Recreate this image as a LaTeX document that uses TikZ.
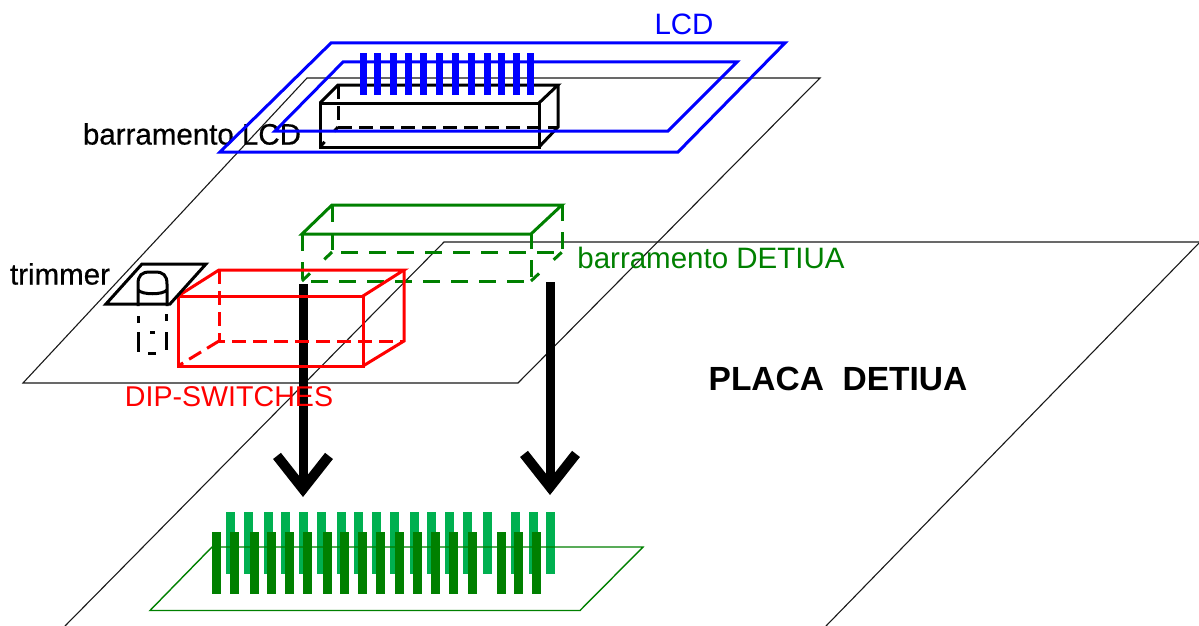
\documentclass[tikz,border=0pt]{standalone}
\usepackage{fontspec}
\setmainfont{Liberation Sans}
\newfontfamily\heavysans[FakeBold=0.6]{Liberation Sans}
\usepackage{xcolor}
\usetikzlibrary{arrows.meta}
\definecolor{lcdblue}{RGB}{0,0,255}
\definecolor{busgreen}{RGB}{0,128,0}
\definecolor{pingreen}{RGB}{0,176,80}
\definecolor{dipred}{RGB}{255,0,0}

\begin{document}
\begin{tikzpicture}[
        x=1pt,y=-1pt,
        every node/.style={font=\fontsize{29.5}{32}\selectfont,inner sep=0pt},
        plate/.style={draw=black!90,line width=1.1pt},
        part/.style={line width=3pt,line join=miter},
        hidden/.style={part,dash pattern=on 14pt off 7pt},
        longdash/.style={part,busgreen,dash pattern=on 17pt off 11pt},
        stubdash/.style={part,busgreen,dash pattern=on 11pt off 20pt},
        pinlight/.style={fill=pingreen},
        pindark/.style={fill=busgreen},
        pinblue/.style={fill=lcdblue},
        heavy/.style={line width=9pt,-{Straight Barb[length=33pt,width=52pt,line width=10pt]}}
    ]
        \useasboundingbox (0,0) rectangle (1199,626);
        % boards
        \draw[plate] (65,626) -- (444,242) -- (1199,242);
        \draw[plate] (1199,243) -- (826,626);
        \draw[plate] (307,78) -- (820,78) -- (518,383) -- (23,383) -- cycle;
        % pins on the lower board
        \foreach \x in {230,248,268,285,303,321,341,358,376,394,414,431,449,467,487,515,533,550}
            \fill[pinlight] (\x-4.5,512) rectangle (\x+4.5,574);
        \draw[line width=1.4pt,busgreen] (212,547) -- (643,547) -- (580,610.5) -- (150,610.5) -- cycle;
        \foreach \x in {216,234,254,271,289,307,327,344,362,380,399,417,435,453,472,501,518,536}
            \fill[pindark] (\x-4.5,532) rectangle (\x+4.5,594);
        % black connector under the LCD
        \draw[part] (320,103) rectangle (539,147);
        \draw[part] (320,103) -- (338,85) -- (558,85) -- (539,103);
        \draw[part] (558,85) -- (558,127) -- (539,147);
        \draw[hidden] (338,85) -- (338,127) -- (558,127);
        \draw[hidden,dash pattern=on 6pt off 14pt on 6pt] (338,127) -- (320,147);
        \node[font=\fontsize{29.5}{32}\heavysans] (lcdbuslabel) at (192,134) {barramento LCD};
        % LCD
        \draw[part,lcdblue] (331,43) -- (785,43) -- (678,152) -- (220,152) -- cycle;
        \draw[part,lcdblue] (343,62) -- (737,62) -- (668,131) -- (275,131) -- cycle;
        \foreach \x in {363,377,393,408,423,439,455,471,487,501,516,530}
            \fill[pinblue] (\x-3.5,53) rectangle (\x+3.5,95);
        \node[text=lcdblue] (lcdlabel) at (684,24) {LCD};
        % green connector
        \draw[part,busgreen] (302,234) -- (531,234) -- (562,205) -- (332,205) -- cycle;
        \draw[longdash] (302,234) -- (302,281) -- (531,281) -- (531,234);
        \draw[longdash] (332,205) -- (332,252) -- (562,252) -- (562,205);
        \draw[stubdash] (302,281) -- (332,252);
        \draw[stubdash] (531,281) -- (562,252);
        \node[text=busgreen] (detiuabuslabel) at (711,258) {barramento DETIUA};
        % arrows
        \coordinate (leftstart) at (303,284);
        \coordinate (leftend) at (303,497);
        \coordinate (rightstart) at (550,282);
        \coordinate (rightend) at (550,495);
        \draw[heavy] (leftstart) -- (leftend);
        \draw[heavy] (rightstart) -- (rightend);
        % dip switches
        \draw[part,dipred] (178,296) rectangle (363,366);
        \draw[part,dipred] (178,296) -- (219,270) -- (404,270) -- (363,296);
        \draw[part,dipred] (404,270) -- (404,341) -- (363,366);
        \draw[hidden,dipred] (219,270) -- (219,341) -- (404,341);
        \draw[hidden,dipred] (219,341) -- (178,366);
        \node[text=dipred,font=\fontsize{28.6}{32}\selectfont] (diplabel) at (229,397) {DIP-SWITCHES};
        % trimmer
        \draw[part] (142,264) -- (206,264) -- (170,304) -- (106,304) -- cycle;
        \draw[part] (138,306) -- (138,284) .. controls (138,275) and (142,272) .. (150,272) -- (155,272) .. controls (163,272) and (167,275) .. (167,284) -- (167,306);
        \draw[part] (138,290) .. controls (142,295) and (163,295) .. (167,290);
        \draw[part,dash pattern=on 7pt off 9pt on 20pt off 50pt] (138,316) -- (138,352);
        \draw[part,dash pattern=on 7pt off 11pt on 18pt off 50pt] (166,314) -- (166,350);
        \draw[part] (150,332) -- (155,332);
        \draw[part] (148,353) -- (156,353);
        \node[font=\fontsize{29.5}{32}\heavysans] (trimmerlabel) at (60,274) {trimmer};
        % main label
        \node[font=\fontsize{33.5}{36}\selectfont\bfseries] (platelabel) at (838,379) {PLACA\ \ DETIUA};
    \end{tikzpicture}
\end{document}
